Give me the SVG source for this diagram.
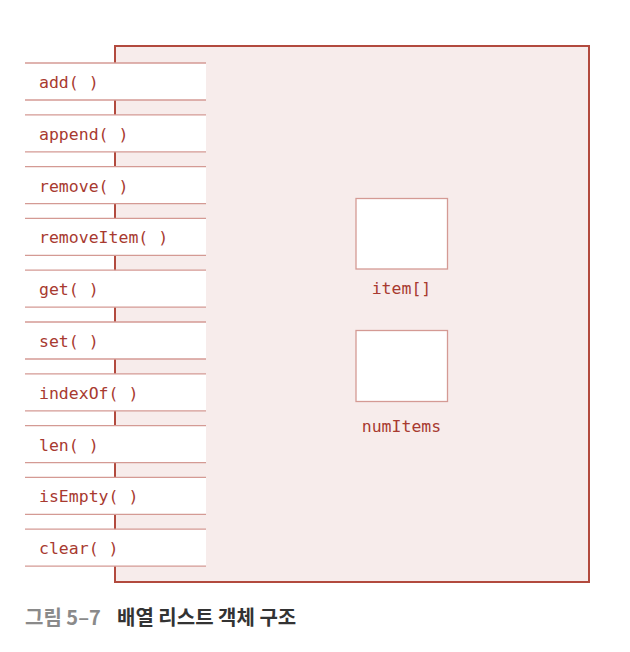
<svg xmlns="http://www.w3.org/2000/svg" width="630" height="652" viewBox="0 0 630 652">
<style>
.m{font-family:"DejaVu Sans Mono","Liberation Mono",monospace;font-size:16.5px;fill:#a83a30}
.bl{stroke:#d49a94;stroke-width:1.3}
.ib{fill:#fff;stroke:#d49a94;stroke-width:1.3}
.cap{font-family:"Noto Sans CJK KR","Noto Sans",sans-serif;font-size:20px;font-weight:bold}
</style>
<rect width="630" height="652" fill="#fff"/>
<g id="object">
<rect x="115" y="46" width="474" height="536" fill="#f7eceb" stroke="#b24a3e" stroke-width="2"/>
</g>
<g id="connectors"></g>
<g id="methods">
<g id="add"><rect x="25" y="63" width="181" height="37" fill="#fff"/><line class="bl" x1="25" y1="63" x2="206" y2="63"/><line class="bl" x1="25" y1="100" x2="206" y2="100"/><text class="m" x="39" y="88">add( )</text></g>
<g id="append"><rect x="25" y="114.8" width="181" height="37" fill="#fff"/><line class="bl" x1="25" y1="114.8" x2="206" y2="114.8"/><line class="bl" x1="25" y1="151.8" x2="206" y2="151.8"/><text class="m" x="39" y="139.8">append( )</text></g>
<g id="remove"><rect x="25" y="166.6" width="181" height="37" fill="#fff"/><line class="bl" x1="25" y1="166.6" x2="206" y2="166.6"/><line class="bl" x1="25" y1="203.6" x2="206" y2="203.6"/><text class="m" x="39" y="191.6">remove( )</text></g>
<g id="removeItem"><rect x="25" y="218.4" width="181" height="37" fill="#fff"/><line class="bl" x1="25" y1="218.4" x2="206" y2="218.4"/><line class="bl" x1="25" y1="255.4" x2="206" y2="255.4"/><text class="m" x="39" y="243.4">removeItem( )</text></g>
<g id="get"><rect x="25" y="270.2" width="181" height="37" fill="#fff"/><line class="bl" x1="25" y1="270.2" x2="206" y2="270.2"/><line class="bl" x1="25" y1="307.2" x2="206" y2="307.2"/><text class="m" x="39" y="295.2">get( )</text></g>
<g id="set"><rect x="25" y="322" width="181" height="37" fill="#fff"/><line class="bl" x1="25" y1="322" x2="206" y2="322"/><line class="bl" x1="25" y1="359" x2="206" y2="359"/><text class="m" x="39" y="347">set( )</text></g>
<g id="indexOf"><rect x="25" y="373.8" width="181" height="37" fill="#fff"/><line class="bl" x1="25" y1="373.8" x2="206" y2="373.8"/><line class="bl" x1="25" y1="410.8" x2="206" y2="410.8"/><text class="m" x="39" y="398.8">indexOf( )</text></g>
<g id="len"><rect x="25" y="425.6" width="181" height="37" fill="#fff"/><line class="bl" x1="25" y1="425.6" x2="206" y2="425.6"/><line class="bl" x1="25" y1="462.6" x2="206" y2="462.6"/><text class="m" x="39" y="450.6">len( )</text></g>
<g id="isEmpty"><rect x="25" y="477.4" width="181" height="37" fill="#fff"/><line class="bl" x1="25" y1="477.4" x2="206" y2="477.4"/><line class="bl" x1="25" y1="514.4" x2="206" y2="514.4"/><text class="m" x="39" y="502.4">isEmpty( )</text></g>
<g id="clear"><rect x="25" y="529.2" width="181" height="37" fill="#fff"/><line class="bl" x1="25" y1="529.2" x2="206" y2="529.2"/><line class="bl" x1="25" y1="566.2" x2="206" y2="566.2"/><text class="m" x="39" y="554.2">clear( )</text></g>
</g>
<g id="item">
<rect class="ib" x="356" y="198.5" width="91.5" height="70.5"/>
<text class="m" x="401.5" y="294" text-anchor="middle">item[]</text>
</g>
<g id="numItems">
<rect class="ib" x="356" y="330.5" width="91.5" height="71"/>
<text class="m" x="401.5" y="432" text-anchor="middle">numItems</text>
</g>
<g id="caption">
<text class="cap" x="25" y="625" fill="#8a8a8a">그림 5–7</text>
<text class="cap" x="117" y="625" fill="#333">배열 리스트 객체 구조</text>
</g>
</svg>
